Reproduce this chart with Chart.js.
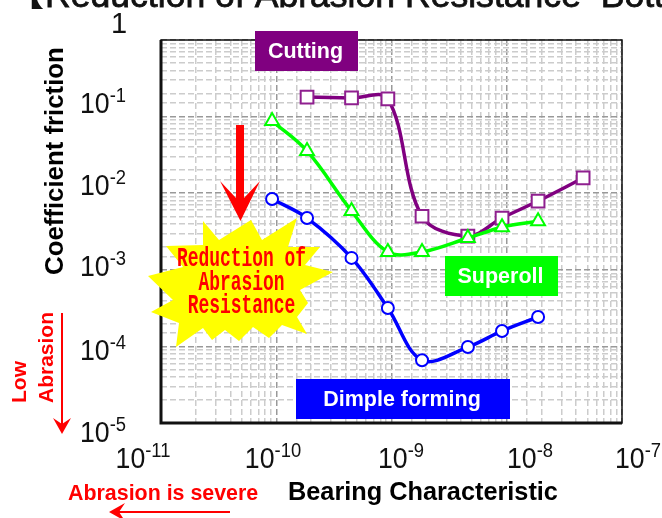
<!DOCTYPE html>
<html>
<head>
<meta charset="utf-8">
<script src="https://cdn.jsdelivr.net/npm/chart.js@4"></script>
<style>
  html, body { margin: 0; padding: 0; background: #fff; overflow: hidden; }
  canvas { display: block; }
</style>
</head>
<body>
<canvas id="chart" width="662" height="518"></canvas>
<script>
// values
var bearing = [9.2e-11, 1.85e-10, 4.5e-10, 9.3e-10, 1.84e-9, 4.6e-9, 9.1e-9, 1.87e-8, 4.6e-8];
var cutting = [null, 0.18, 0.175, 0.17, 5.0e-3, 2.76e-3, 4.74e-3, 7.9e-3, 1.58e-2];
var superoll = [0.0876, 0.0356, 5.86e-3, 1.71e-3, 1.71e-3, 2.6e-3, 3.6e-3, 4.3e-3, null];
var dimple = [8.4e-3, 4.74e-3, 1.43e-3, 3.17e-4, 6.6e-5, 9.8e-5, 1.59e-4, 2.42e-4, null];
var xExponents = ["-11", "-10", "-9", "-8", "-7"];
var yExponents = ["-1", "-2", "-3", "-4", "-5"];
var starLines = ["Reduction of", "Abrasion", "Resistance"];

var PURPLE = "#800080", GREEN = "#00ff00", BLUE = "#0000ff", RED = "#ff0000";
var ARIAL = '"Liberation Sans", Arial, sans-serif';

function xyPoints(values) {
  var out = [];
  for (var i = 0; i < values.length; i++) {
    if (values[i] !== null) out.push({ x: bearing[i], y: values[i] });
  }
  return out;
}

function series(label, values, color, shape) {
  return {
    label: label,
    data: xyPoints(values),
    borderColor: color,
    borderWidth: 3.5,
    tension: 0.35,
    pointStyle: shape,
    pointRadius: shape === "circle" ? 6 : shape === "rect" ? 9 : 8,
    pointBorderWidth: 2,
    pointBorderColor: shape === "rect" ? "#8f1f8f" : color,
    pointBackgroundColor: "#fff"
  };
}

// the digits in the picture are a bit narrower than the font
function label10(ctx, exp, cx, baseY) {
  ctx.save();
  ctx.translate(cx, baseY);
  ctx.scale(0.92, 1);
  ctx.font = "29px " + ARIAL;
  var w1 = ctx.measureText("10").width;
  ctx.font = "20px " + ARIAL;
  var w2 = ctx.measureText(exp).width;
  var left = -(w1 + w2) / 2;
  ctx.textAlign = "left";
  ctx.textBaseline = "alphabetic";
  ctx.fillStyle = "#111";
  ctx.font = "29px " + ARIAL;
  ctx.fillText("10", left, 0);
  ctx.font = "20px " + ARIAL;
  ctx.fillText(exp, left + w1, -11);
  ctx.restore();
}

function box(ctx, text, color, x, y, w, h) {
  ctx.fillStyle = color;
  ctx.fillRect(x, y, w, h);
  ctx.fillStyle = "#fff";
  ctx.font = "bold 21.5px " + ARIAL;
  ctx.textAlign = "center";
  ctx.textBaseline = "middle";
  ctx.fillText(text, x + w / 2 - 1, y + h / 2 + 1);
}

function thinArrow(ctx, x1, y1, x2, y2) {
  var a = Math.atan2(y2 - y1, x2 - x1);
  ctx.strokeStyle = RED;
  ctx.fillStyle = RED;
  ctx.lineWidth = 2;
  ctx.beginPath();
  ctx.moveTo(x1, y1);
  ctx.lineTo(x2 - 6 * Math.cos(a), y2 - 6 * Math.sin(a));
  ctx.stroke();
  ctx.save();
  ctx.translate(x2, y2);
  ctx.rotate(a);
  ctx.beginPath();
  ctx.moveTo(0, 0);
  ctx.lineTo(-16, -9);
  ctx.lineTo(-10, 0);
  ctx.lineTo(-16, 9);
  ctx.closePath();
  ctx.fill();
  ctx.restore();
}

// outline of the yellow burst
var starPts = [[203,221],[219,240],[251,220],[262,240],[297,218],[288,247],[320,247],[305,265],[333,272],[300,290],[308,303],[297,317],[307,334],[282,325],[269,338],[253,327],[239,341],[225,330],[212,340],[203,328],[176,347],[179,323],[151,312],[173,300],[148,276],[183,267],[166,246],[203,245]];

var decorations = {
  id: "decorations",
  afterDraw: function (chart) {
    var ctx = chart.ctx;
    var area = chart.chartArea;
    ctx.save();

    // plot frame
    ctx.strokeStyle = "#111";
    ctx.lineWidth = 1.5;
    ctx.strokeRect(area.left, area.top, area.right - area.left, area.bottom - area.top);
    ctx.lineWidth = 3;
    ctx.beginPath();
    ctx.moveTo(area.left, area.top);
    ctx.lineTo(area.left, area.bottom);
    ctx.lineTo(area.right, area.bottom);
    ctx.stroke();

    // title, cut by the top of the picture
    ctx.fillStyle = "#111";
    ctx.textAlign = "left";
    ctx.textBaseline = "alphabetic";
    ctx.font = 'bold 36px "Noto Sans CJK JP"';
    ctx.fillText("\u3010", 8, 6);
    ctx.font = "35.6px " + ARIAL;
    ctx.lineWidth = 0.8;
    ctx.strokeStyle = "#111";
    ctx.strokeText("Reduction of Abrasion Resistance  Bott", 45, 7);
    ctx.fillText("Reduction of Abrasion Resistance  Bott", 45, 7);

    // tick labels sit a little off the grid in the picture
    var xCenters = [143, 273, 401, 530, 638];
    var yBases = [113, 195, 276, 360, 442];
    xExponents.forEach(function (e, i) { label10(ctx, e, xCenters[i], 468); });
    yExponents.forEach(function (e, i) { label10(ctx, e, 103, yBases[i]); });
    ctx.font = "29px " + ARIAL;
    ctx.textAlign = "center";
    ctx.fillStyle = "#111";
    ctx.fillText("1", 119, 33);

    // axis titles
    ctx.fillStyle = "#000";
    ctx.font = "bold 25.3px " + ARIAL;
    ctx.textAlign = "left";
    ctx.fillText("Bearing Characteristic", 288, 500);
    ctx.font = "bold 25.8px " + ARIAL;
    ctx.save();
    ctx.translate(63, 275);
    ctx.rotate(-Math.PI / 2);
    ctx.fillText("Coefficient friction", 0, 0);
    ctx.restore();

    // series name boxes
    box(ctx, "Cutting", PURPLE, 255, 31, 103, 40);
    box(ctx, "Superoll", GREEN, 445, 256, 113, 40);
    box(ctx, "Dimple forming", BLUE, 296, 379, 214, 40);

    // big red arrow
    ctx.fillStyle = RED;
    ctx.beginPath();
    ctx.moveTo(236, 125);
    ctx.lineTo(244, 125);
    ctx.lineTo(244, 198);
    ctx.lineTo(260, 181);
    ctx.lineTo(240.5, 221);
    ctx.lineTo(220, 181);
    ctx.lineTo(236, 198);
    ctx.closePath();
    ctx.fill();

    // burst
    ctx.fillStyle = "#ffff00";
    ctx.beginPath();
    starPts.forEach(function (p, i) {
      if (i === 0) ctx.moveTo(p[0], p[1]); else ctx.lineTo(p[0], p[1]);
    });
    ctx.closePath();
    ctx.fill();
    ctx.fillStyle = RED;
    ctx.font = 'bold 27px "Liberation Mono", monospace';
    ctx.textAlign = "center";
    ctx.textBaseline = "alphabetic";
    var baselines = [266, 290, 313];
    starLines.forEach(function (t, i) {
      ctx.save();
      ctx.translate(241.5, baselines[i]);
      ctx.scale(0.664, 1);
      ctx.fillText(t, 0, 0);
      ctx.restore();
    });

    // red notes at the lower left
    ctx.font = "bold 21.4px " + ARIAL;
    ctx.textAlign = "left";
    ctx.fillText("Abrasion is severe", 68, 500);
    thinArrow(ctx, 230, 512, 109, 512);
    thinArrow(ctx, 62, 313, 62, 434);
    ctx.font = "bold 21px " + ARIAL;
    ctx.save();
    ctx.translate(52.5, 403);
    ctx.rotate(-Math.PI / 2);
    ctx.fillText("Abrasion", 0, 0);
    ctx.restore();
    ctx.save();
    ctx.translate(26, 403);
    ctx.rotate(-Math.PI / 2);
    ctx.fillText("Low", 0, 0);
    ctx.restore();

    ctx.restore();
  }
};

function gridScale(min, max) {
  return {
    type: "logarithmic",
    min: min,
    max: max,
    border: { display: false, dash: [6, 3] },
    ticks: { display: false, autoSkip: false, maxTicksLimit: 100 },
    grid: {
      drawTicks: false,
      lineWidth: 1.5,
      color: function (c) {
        return c.tick && c.tick.major ? "#999999" : "#cccccc";
      }
    }
  };
}

new Chart(document.getElementById("chart"), {
  type: "line",
  data: {
    datasets: [
      series("Dimple forming", dimple, BLUE, "circle"),
      series("Superoll", superoll, GREEN, "triangle"),
      series("Cutting", cutting, PURPLE, "rect")
    ]
  },
  options: {
    responsive: false,
    animation: false,
    layout: { padding: { left: 161, right: 40, top: 40, bottom: 95 } },
    plugins: { legend: { display: false }, title: { display: false }, tooltip: { enabled: false } },
    scales: {
      x: gridScale(1e-11, 1e-7),
      y: gridScale(1e-5, 1)
    }
  },
  plugins: [decorations]
});
</script>
</body>
</html>
